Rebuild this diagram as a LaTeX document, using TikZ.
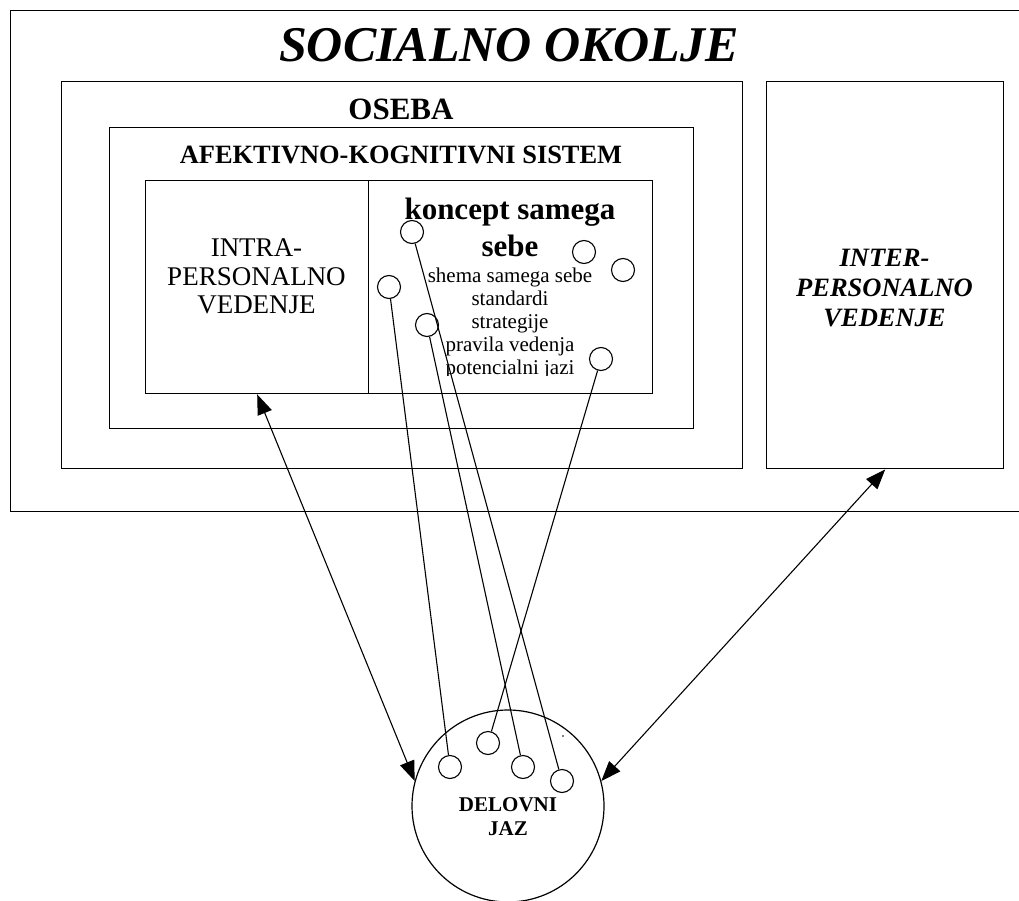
\documentclass[tikz,border=0pt]{standalone}
\usepackage{fontspec}
\setmainfont{Liberation Serif}
\usetikzlibrary{arrows.meta}
\begin{document}
\begin{tikzpicture}[x=1pt,y=-1pt,
  frame/.style={draw, line width=1.4pt, inner sep=0pt, anchor=north west},
  dot/.style={draw, circle, line width=1.1pt, minimum size=23pt, inner sep=0pt},
  link/.style={line width=1.1pt},
  biarrow/.style={line width=1.1pt, {Triangle[length=20pt,width=15pt]}-{Triangle[length=20pt,width=15pt]}},
  lbl/.style={inner sep=0pt, anchor=base}
]
\useasboundingbox (0,0) rectangle (1019,901);
\fill[white] (0,0) rectangle (1019,901);
% frames
\node[frame, minimum width=1030pt, minimum height=501pt] (okolje) at (10,10) {};
\node[frame, minimum width=681pt, minimum height=387pt] (oseba) at (61,81) {};
\node[frame, minimum width=584pt, minimum height=301pt] (aks) at (109,127) {};
\node[frame, minimum width=223pt, minimum height=213pt] (intra) at (145,180) {};
\node[frame, minimum width=284pt, minimum height=213pt] (koncept) at (368,180) {};
\node[frame, minimum width=237pt, minimum height=387pt] (inter) at (766,81) {};
% titles
\node[lbl, font=\fontsize{50}{50}\selectfont\bfseries\itshape] (tsoc) at (509,62) {SOCIALNO OKOLJE};
\node[lbl, font=\fontsize{31}{31}\selectfont\bfseries] (toseba) at (401,120) {OSEBA};
\node[lbl, font=\fontsize{26.4}{26}\selectfont\bfseries] (taks) at (401,164) {AFEKTIVNO-KOGNITIVNI SISTEM};
% intra
\node[lbl, font=\fontsize{27}{27}\selectfont] (ti1) at (256.5,257) {INTRA-};
\node[lbl, font=\fontsize{27}{27}\selectfont] (ti2) at (256.5,285) {PERSONALNO};
\node[lbl, font=\fontsize{27}{27}\selectfont] (ti3) at (256.5,313) {VEDENJE};
% inter
\node[lbl, font=\fontsize{26.5}{26}\selectfont\bfseries\itshape] (te1) at (884.5,266) {INTER-};
\node[lbl, font=\fontsize{26.5}{26}\selectfont\bfseries\itshape] (te2) at (884.5,296) {PERSONALNO};
\node[lbl, font=\fontsize{26.5}{26}\selectfont\bfseries\itshape] (te3) at (884.5,326) {VEDENJE};
% koncept
\node[lbl, font=\fontsize{31}{31}\selectfont\bfseries] (tk1) at (510,220) {koncept samega};
\node[lbl, font=\fontsize{31}{31}\selectfont\bfseries] (tk2) at (510,257) {sebe};
\node[lbl, font=\fontsize{21}{21}\selectfont] (ts1) at (510,282) {shema samega sebe};
\node[lbl, font=\fontsize{21}{21}\selectfont] (ts2) at (510,305) {standardi};
\node[lbl, font=\fontsize{21}{21}\selectfont] (ts3) at (510,328) {strategije};
\node[lbl, font=\fontsize{21}{21}\selectfont] (ts4) at (510,351) {pravila vedenja};
\begin{scope}
\clip (370,355) rectangle (650,375.5);
\node[lbl, font=\fontsize{21}{21}\selectfont] (ts5) at (510,374) {potencialni jazi};
\end{scope}
% delovni jaz
\node[draw, circle, line width=1.2pt, minimum size=192pt, inner sep=0pt] (jaz) at (508,806) {};
\node[lbl, font=\fontsize{21}{21}\selectfont\bfseries] (tj1) at (508,811) {DELOVNI};
\node[lbl, font=\fontsize{21}{21}\selectfont\bfseries] (tj2) at (508,835) {JAZ};
\fill (563,736) circle (0.9);
% small circles
\node[dot] (c1) at (412,232) {};
\node[dot] (c2) at (389,287) {};
\node[dot] (c3) at (427,325) {};
\node[dot] (c4) at (584,252) {};
\node[dot] (c5) at (623,270) {};
\node[dot] (c6) at (601,359) {};
\node[dot] (l1) at (450,767) {};
\node[dot] (l2) at (488,743) {};
\node[dot] (l3) at (523,767) {};
\node[dot] (l4) at (562,781) {};
% links
\draw[link] (c1) -- (l4);
\draw[link] (c2) -- (l1);
\draw[link] (c3) -- (l3);
\draw[link] (c6) -- (l2);
% arrows
\draw[biarrow] (intra.south) -- (jaz.165);
\draw[biarrow] (inter.south) -- (jaz.15);
\end{tikzpicture}
\end{document}
